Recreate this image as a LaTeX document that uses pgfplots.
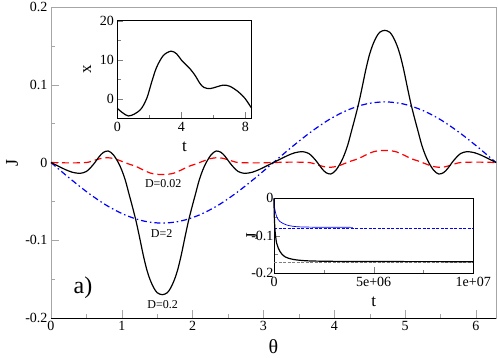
\documentclass[border=0pt]{standalone}
\usepackage{fontspec}
\setmainfont{Liberation Serif}
\usepackage{pgfplots}
\pgfplotsset{compat=1.18}

\pgfplotsset{
  tickfont/.style={font=\fontsize{14}{14}\selectfont},
  every axis/.append style={
    /pgf/number format/assume math mode=true,
    scale only axis, tick align=inside, tick pos=left,
    ticklabel style={tickfont},
    clip=false,
  },
}

\begin{document}
\begin{tikzpicture}
\useasboundingbox (-51pt,-39pt) rectangle (447pt,318pt);

% main panel
\begin{axis}[
    at={(0pt,0pt)}, anchor=south west,
    width=445pt, height=311pt,
    xmin=0, xmax=6.2832, ymin=-0.2, ymax=0.2,
    xtick={0,1,2,3,4,5,6},
    ytick={-0.2,-0.1,0,0.1,0.2}, yticklabels={-0.2,-0.1,0,0.1,0.2},
    minor x tick num=1, minor y tick num=1,
    major tick length=8pt, minor tick length=4.5pt,
    axis line style={gray!70}, every tick/.style={gray!70},
]
\draw[black, line width=0.8pt] (rel axis cs:0,0) -- (rel axis cs:1,0);
\path (axis description cs:0.5,-0.093) node[font=\fontsize{20}{20}\selectfont] {θ};
\path (axis description cs:-0.0876,0.5) node[font=\fontsize{18}{18}\selectfont, rotate=90] {J};

% D=2
\addplot[blue, line width=1.2pt, dash pattern=on 6pt off 3pt on 1.5pt off 3pt, smooth] coordinates {
(0,0) (0.2618,-0.0202) (0.5236,-0.0390) (0.7854,-0.0552) (1.0472,-0.0675) (1.3090,-0.0753)
(1.5708,-0.0780) (1.8326,-0.0753) (2.0944,-0.0675) (2.3562,-0.0552) (2.6180,-0.0390) (2.8798,-0.0202)
(3.1416,0) (3.4034,0.0202) (3.6652,0.0390) (3.9270,0.0552) (4.1888,0.0675) (4.4506,0.0753)
(4.7124,0.0780) (4.9742,0.0753) (5.2360,0.0675) (5.4978,0.0552) (5.7596,0.0390) (6.0214,0.0202) (6.2832,0)
};

% D=0.02
\addplot[red, line width=1.2pt, dash pattern=on 7pt off 4pt, smooth] coordinates {
(0,0) (0.25,-0.0005) (0.5,0.0000) (0.62,0.0030) (0.72,0.0055) (0.80,0.0062) (0.90,0.0048)
(1.00,0.0015) (1.10,-0.0020) (1.20,-0.0050) (1.30,-0.0095) (1.40,-0.0135) (1.48,-0.0150) (1.5708,-0.0155)
(1.6616,-0.0150) (1.7416,-0.0135) (1.8416,-0.0095) (1.9416,-0.0050) (2.0416,-0.0020) (2.1416,0.0015)
(2.2416,0.0048) (2.3416,0.0062) (2.4216,0.0055) (2.5216,0.0030) (2.6416,0) (2.8916,-0.0005) (3.1416,0)
(3.3916,0.0005) (3.6416,0) (3.7616,-0.0030) (3.8616,-0.0055) (3.9416,-0.0062) (4.0416,-0.0048)
(4.1416,-0.0015) (4.2416,0.0020) (4.3416,0.0050) (4.4416,0.0095) (4.5416,0.0135) (4.6216,0.0150) (4.7124,0.0155)
(4.8032,0.0150) (4.8832,0.0135) (4.9832,0.0095) (5.0832,0.0050) (5.1832,0.0020) (5.2832,-0.0015)
(5.3832,-0.0048) (5.4832,-0.0062) (5.5632,-0.0055) (5.6632,-0.0030) (5.7832,0) (6.0332,0.0005) (6.2832,0)
};

% D=0.2
\addplot[black, line width=1.2pt, smooth] coordinates {
(0,0) (0.1,-0.0045) (0.2,-0.0090) (0.3,-0.0125) (0.41,-0.0140) (0.5,-0.0115) (0.56,-0.0065)
(0.62,0) (0.68,0.0075) (0.74,0.0130) (0.81,0.0148) (0.88,0.0100) (0.95,0) (1.00,-0.0100)
(1.05,-0.0230) (1.10,-0.0400) (1.15,-0.0570) (1.20,-0.0750) (1.25,-0.0960) (1.30,-0.1180)
(1.35,-0.1370) (1.40,-0.1510) (1.45,-0.1610) (1.50,-0.1675) (1.5708,-0.1700)
(1.6416,-0.1675) (1.6916,-0.1610) (1.7416,-0.1510) (1.7916,-0.1370) (1.8416,-0.1180)
(1.8916,-0.0960) (1.9416,-0.0750) (1.9916,-0.0570) (2.0416,-0.0400) (2.0916,-0.0230)
(2.1416,-0.0100) (2.1916,0) (2.2616,0.0100) (2.3316,0.0148) (2.4016,0.0130) (2.4616,0.0075)
(2.5216,0) (2.5816,-0.0065) (2.6416,-0.0115) (2.7316,-0.0140) (2.8416,-0.0125) (2.9416,-0.0090)
(3.0416,-0.0045) (3.1416,0)
(3.2416,0.0045) (3.3416,0.0090) (3.4416,0.0125) (3.5516,0.0140) (3.6416,0.0115) (3.7016,0.0065)
(3.7616,0) (3.8216,-0.0075) (3.8816,-0.0130) (3.9516,-0.0148) (4.0216,-0.0100) (4.0916,0)
(4.1416,0.0100) (4.1916,0.0230) (4.2416,0.0400) (4.2916,0.0570) (4.3416,0.0750) (4.3916,0.0960)
(4.4416,0.1180) (4.4916,0.1370) (4.5416,0.1510) (4.5916,0.1610) (4.6416,0.1675) (4.7124,0.1700)
(4.7832,0.1675) (4.8332,0.1610) (4.8832,0.1510) (4.9332,0.1370) (4.9832,0.1180) (5.0332,0.0960)
(5.0832,0.0750) (5.1332,0.0570) (5.1832,0.0400) (5.2332,0.0230) (5.2832,0.0100) (5.3332,0)
(5.4032,-0.0100) (5.4732,-0.0148) (5.5432,-0.0130) (5.6032,-0.0075) (5.6632,0) (5.7232,0.0065)
(5.7832,0.0115) (5.8732,0.0140) (5.9832,0.0125) (6.0832,0.0090) (6.1832,0.0045) (6.2832,0)
};

\node[font=\fontsize{12}{12}\selectfont] at (axis cs:1.585,-0.0268) {D=0.02};
\node[font=\fontsize{12}{12}\selectfont] at (axis cs:1.563,-0.091) {D=2};
\node[font=\fontsize{12}{12}\selectfont] at (axis cs:1.577,-0.183) {D=0.2};
\node[font=\fontsize{24}{24}\selectfont] at (axis cs:0.452,-0.161) {a)};
\end{axis}

% inset: x(t)
\begin{axis}[
    at={(66.3pt,199.7pt)}, anchor=south west,
    width=134.4pt, height=97.6pt,
    axis background/.style={fill=white},
    xmin=0, xmax=8.4, ymin=-5, ymax=20,
    xtick={0,4,8}, ytick={0,10,20},
    minor x tick num=1, minor y tick num=1,
    major tick length=6pt, minor tick length=3.5pt,
    axis line style={black, line width=0.6pt},
]
\path (axis description cs:0.5,-0.291) node[font=\fontsize{17}{17}\selectfont] {t};
\path (axis description cs:-0.2232,0.5) node[font=\fontsize{17}{17}\selectfont, rotate=90] {x};
\addplot[black, line width=1.2pt, smooth] coordinates {
(0,-2.45) (0.69,-4.4) (1.42,-2.9) (1.84,0.1) (2.15,4.3) (2.46,8.1) (2.88,11.1) (3.36,12.2)
(3.71,11.5) (4.02,9.85) (4.54,7.7) (4.86,6.0) (5.17,3.9) (5.42,2.9) (5.79,2.6) (6.21,3.05)
(6.63,3.5) (7.04,3.2) (7.56,1.8) (7.98,0.1) (8.4,-2.45)
};
\end{axis}

% inset: J(t)
\begin{axis}[
    at={(223pt,44.7pt)}, anchor=south west,
    width=199.3pt, height=75pt,
    axis background/.style={fill=white},
    xmin=0, xmax=1e7, ymin=-0.2, ymax=0,
    xtick={0,5e6,1e7}, xticklabels={0,5e+06,1e+07},
    ytick={-0.2,-0.1,0}, yticklabels={-0.2,-0.1,0},
    minor x tick num=1, minor y tick num=1,
    scaled x ticks=false,
    major tick length=6pt, minor tick length=3.5pt,
    axis line style={black, line width=0.6pt},
    yticklabel style={xshift=3pt},
]
\path (axis description cs:0.5,-0.379) node[font=\fontsize{17}{17}\selectfont] {t};
\path (axis description cs:-0.1104,0.5) node[font=\fontsize{17}{17}\selectfont, rotate=90] {J};
\addplot[blue, line width=0.5pt, dash pattern=on 3pt off 1.5pt] coordinates {(0,-0.08) (1e7,-0.08)};
\addplot[gray, line width=0.7pt, dash pattern=on 3pt off 1.5pt] coordinates {(0,-0.1717) (1e7,-0.1717)};
\addplot[blue, line width=0.7pt, smooth] coordinates {
(0,0) (3e4,-0.025) (1.35e5,-0.049) (3e5,-0.062) (6.4e5,-0.0712) (1.14e6,-0.0757)
(2e6,-0.0770) (3e6,-0.0772) (3.96e6,-0.0775)
};
\addplot[black, line width=1.2pt, smooth] coordinates {
(0,0) (1e4,-0.04) (5e4,-0.085) (1.35e5,-0.12) (3e5,-0.142) (5.5e5,-0.156) (9.7e5,-0.163)
(1.8e6,-0.167) (4e6,-0.1685) (1e7,-0.169)
};
\end{axis}
\end{tikzpicture}
\end{document}
